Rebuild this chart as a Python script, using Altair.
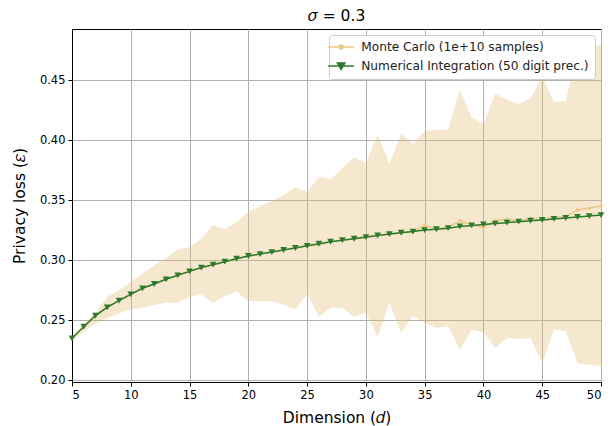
import altair as alt
import pandas as pd

dims = list(range(5, 51))

ni_vals = [0.2350, 0.2447, 0.2539, 0.2608, 0.2664, 0.2717, 0.2767, 0.2803, 0.2842, 0.2875,
           0.2908, 0.2940, 0.2964, 0.2989, 0.3014, 0.3036, 0.3052, 0.3069, 0.3086, 0.3103,
           0.3121, 0.3139, 0.3155, 0.3168, 0.3180, 0.3193, 0.3207, 0.3219, 0.3230, 0.3240,
           0.3252, 0.3259, 0.3268, 0.3282, 0.3291, 0.3299, 0.3306, 0.3314, 0.3322, 0.3330,
           0.3337, 0.3345, 0.3353, 0.3361, 0.3369, 0.3377]

mc_vals = [0.2350, 0.2450, 0.2545, 0.2612, 0.2668, 0.2720, 0.2770, 0.2806, 0.2845, 0.2876,
           0.2910, 0.2941, 0.2966, 0.2990, 0.3016, 0.3037, 0.3053, 0.3070, 0.3088, 0.3104,
           0.3120, 0.3128, 0.3156, 0.3170, 0.3181, 0.3196, 0.3212, 0.3218, 0.3232, 0.3238,
           0.3294, 0.3262, 0.3275, 0.3330, 0.3294, 0.3275, 0.3330, 0.3342, 0.3325, 0.3350,
           0.3338, 0.3358, 0.3364, 0.3420, 0.3436, 0.3453]

mc_upper = [0.2365, 0.2460, 0.2560, 0.2697, 0.2750, 0.2820, 0.2890, 0.2960, 0.3020, 0.3090,
            0.3110, 0.3180, 0.3294, 0.3260, 0.3320, 0.3405, 0.3450, 0.3494, 0.3544, 0.3610,
            0.3570, 0.3697, 0.3675, 0.3767, 0.3858, 0.3814, 0.4044, 0.3808, 0.4058, 0.3970,
            0.4080, 0.4086, 0.4092, 0.4420, 0.4190, 0.4136, 0.4386, 0.4340, 0.4300, 0.4350,
            0.4530, 0.4320, 0.4328, 0.4740, 0.4760, 0.4794]

mc_lower = [0.2335, 0.2405, 0.2475, 0.2517, 0.2558, 0.2590, 0.2605, 0.2628, 0.2647, 0.2647,
            0.2697, 0.2715, 0.2642, 0.2703, 0.2739, 0.2660, 0.2660, 0.2660, 0.2628, 0.2590,
            0.2720, 0.2530, 0.2605, 0.2600, 0.2530, 0.2563, 0.2363, 0.2642, 0.2397, 0.2536,
            0.2475, 0.2438, 0.2453, 0.2255, 0.2420, 0.2400, 0.2267, 0.2355, 0.2342, 0.2355,
            0.2142, 0.2420, 0.2411, 0.2142, 0.2128, 0.2120]

series_names = ["Monte Carlo (1e+10 samples)", "Numerical Integration (50 digit prec.)"]
series_colors = ["#ecc88a", "#2d7a2d"]
x_ticks = [5, 10, 15, 20, 25, 30, 35, 40, 45, 50]
y_ticks = [0.20, 0.25, 0.30, 0.35, 0.40, 0.45]

band_df = pd.DataFrame({"d": dims, "lower": mc_lower, "upper": mc_upper})
mc_df = pd.DataFrame({"d": dims, "v": mc_vals, "series": series_names[0]})
ni_df = pd.DataFrame({"d": dims, "v": ni_vals, "series": series_names[1]})
all_df = pd.concat([mc_df, ni_df])

FONT = "DejaVu Sans"
xscale = alt.Scale(domain=[5, 50], nice=False, zero=False)
yscale = alt.Scale(domain=[0.1986, 0.4928], nice=False, zero=False)

xax = alt.Axis(values=x_ticks, title="Dimension (𝑑)", format="d")
yax = alt.Axis(values=y_ticks, title="Privacy loss (𝜀)", format=".2f")

band = alt.Chart(band_df).mark_area(color="#e2bd76", opacity=0.35).encode(
    x=alt.X("d:Q", scale=xscale, axis=xax),
    y=alt.Y("lower:Q", scale=yscale, axis=yax),
    y2="upper:Q",
)

mc_line = alt.Chart(mc_df).mark_line(color=series_colors[0], strokeWidth=1.5).encode(
    x=alt.X("d:Q", scale=xscale), y=alt.Y("v:Q", scale=yscale))
mc_pts = alt.Chart(mc_df).mark_point(shape="circle", filled=True, size=14, opacity=1,
                                     color=series_colors[0]).encode(
    x=alt.X("d:Q", scale=xscale), y=alt.Y("v:Q", scale=yscale))
ni_line = alt.Chart(ni_df).mark_line(color=series_colors[1], strokeWidth=1.5).encode(
    x=alt.X("d:Q", scale=xscale), y=alt.Y("v:Q", scale=yscale))
ni_pts = alt.Chart(ni_df).mark_point(shape="triangle-down", filled=True, size=45, opacity=1,
                                     color=series_colors[1]).encode(
    x=alt.X("d:Q", scale=xscale), y=alt.Y("v:Q", scale=yscale))

mc_sym = "M-2.6,0L2.6,0M0.4,0A0.4,0.4,0,1,1,-0.4,0A0.4,0.4,0,1,1,0.4,0Z"
ni_sym = "M-2.6,0L2.6,0M-0.75,-0.6L0.75,-0.6L0,0.7Z"

leg = alt.Legend(title=None, orient="none", legendX=257, legendY=6,
                 fillColor="white", strokeColor="#cccccc", cornerRadius=3, padding=6,
                 labelFont=FONT, labelFontSize=12.2, labelColor="#222222",
                 symbolSize=100, symbolStrokeWidth=1.5, symbolOpacity=1,
                 labelOffset=14, rowPadding=6, labelLimit=400)

legend_layer = alt.Chart(all_df).mark_point(opacity=0, filled=True).encode(
    x=alt.X("d:Q", scale=xscale), y=alt.Y("v:Q", scale=yscale),
    fill=alt.Fill("series:N", scale=alt.Scale(domain=series_names, range=series_colors), legend=leg),
    stroke=alt.Stroke("series:N", scale=alt.Scale(domain=series_names, range=series_colors), legend=leg),
    shape=alt.Shape("series:N", scale=alt.Scale(domain=series_names, range=[mc_sym, ni_sym]), legend=leg),
)

chart = alt.layer(band, mc_line, mc_pts, ni_line, ni_pts, legend_layer).properties(
    width=529, height=353,
    autosize=alt.AutoSizeParams(type="none"),
    padding={"left": 64, "top": 21, "right": 4, "bottom": 44},
    title=alt.Title("𝜎 = 0.3", font=FONT, fontSize=15.5, fontWeight="normal", color="black",
                    anchor="middle", offset=5),
).configure_view(stroke="black", strokeWidth=1).configure_axis(
    domainColor="black", domainWidth=1, tickColor="black", tickSize=4, tickWidth=1,
    gridColor="#b0b0b0", gridWidth=1, grid=True,
    labelFont=FONT, labelFontSize=11.5, labelColor="black", labelPadding=3,
    titleFont=FONT, titleFontSize=15.5, titleFontWeight="normal", titleColor="black",
).configure_axisY(titlePadding=12).configure_axisX(titlePadding=10)

chart.save("out.html", embed_options={"renderer": "svg", "actions": False})
